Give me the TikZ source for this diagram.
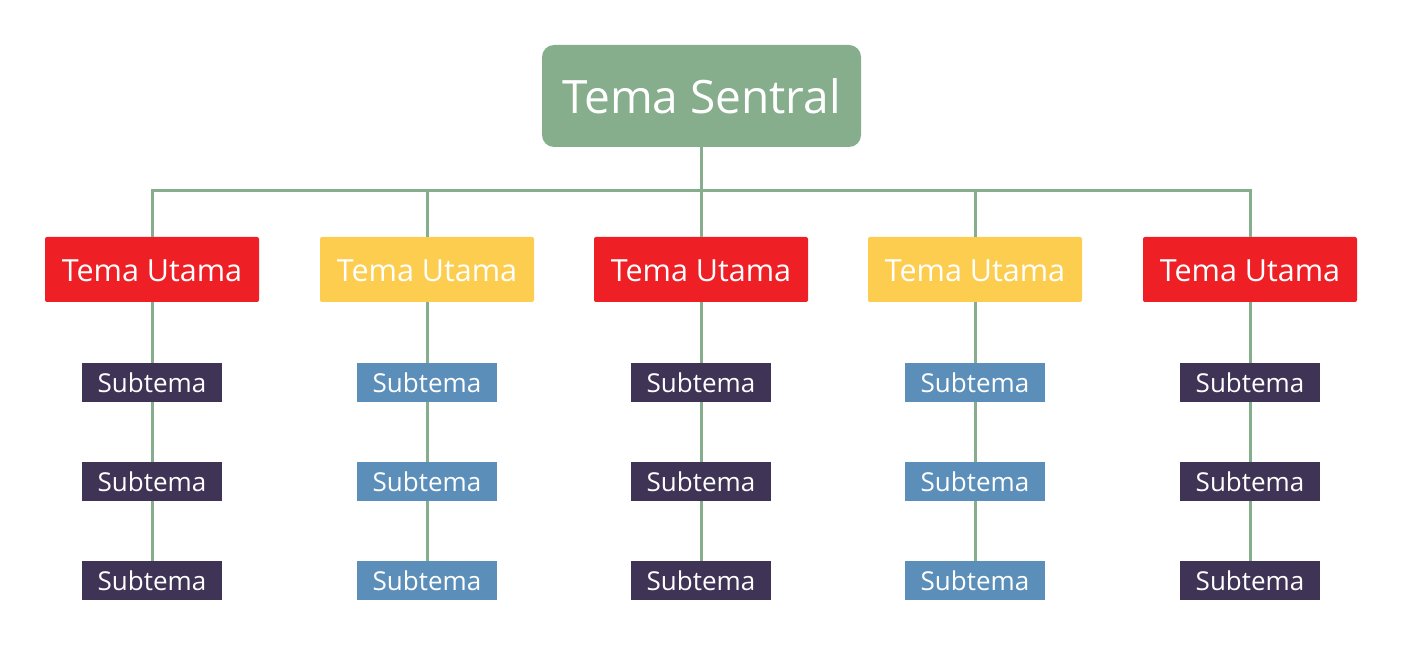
\documentclass[tikz,border=0pt]{standalone}
\usepackage{fontspec}
\setmainfont{Open Sans}
\definecolor{cgreen}{HTML}{86AE8D}
\definecolor{cred}{HTML}{EE2025}
\definecolor{cyellow}{HTML}{FCCD4F}
\definecolor{cpurple}{HTML}{3F3356}
\definecolor{cblue}{HTML}{5B8FBA}
\tikzset{
  central/.style={fill=cgreen, rounded corners=12pt, minimum width=319pt, minimum height=102pt, inner sep=0pt, text=white, font=\fontsize{46}{52}\selectfont},
  mainbox/.style={rounded corners=2pt, minimum width=214pt, minimum height=65pt, inner sep=0pt, text=white, font=\fontsize{30.5}{36}\selectfont},
  subbox/.style={minimum width=140pt, minimum height=39pt, inner sep=0pt, text=white, font=\fontsize{26}{30}\selectfont},
  conn/.style={draw=cgreen, line width=3pt}
}
\begin{document}
\begin{tikzpicture}[x=1pt,y=1pt]
\useasboundingbox (0,0) rectangle (1403,-660);
\node[central] (c) at (701.5,-96) {Tema Sentral};
\coordinate (bus) at (701,-191);
\foreach \i/\x/\col/\sub in {1/152/cred/cpurple, 2/427/cyellow/cblue, 3/701/cred/cpurple, 4/975/cyellow/cblue, 5/1250/cred/cpurple} {
  \node[mainbox, fill=\col, text depth=0pt, anchor=center] (t\i) at (\x,-269.5) {\raisebox{-2pt}{Tema Utama}};
  \node[subbox, fill=\sub] (s\i a) at (\x,-382.5) {Subtema};
  \node[subbox, fill=\sub] (s\i b) at (\x,-481.5) {Subtema};
  \node[subbox, fill=\sub] (s\i c) at (\x,-580.5) {Subtema};
  \draw[conn] (t\i.south) -- (s\i a.north);
  \draw[conn] (s\i a.south) -- (s\i b.north);
  \draw[conn] (s\i b.south) -- (s\i c.north);
}
\draw[conn] (c.south) -- (c.south |- bus);
\draw[conn] (t1.north) |- (bus) -| (t5.north);
\draw[conn] (t2.north) -- (t2.north |- bus);
\draw[conn] (t3.north) -- (t3.north |- bus);
\draw[conn] (t4.north) -- (t4.north |- bus);
\end{tikzpicture}
\end{document}
